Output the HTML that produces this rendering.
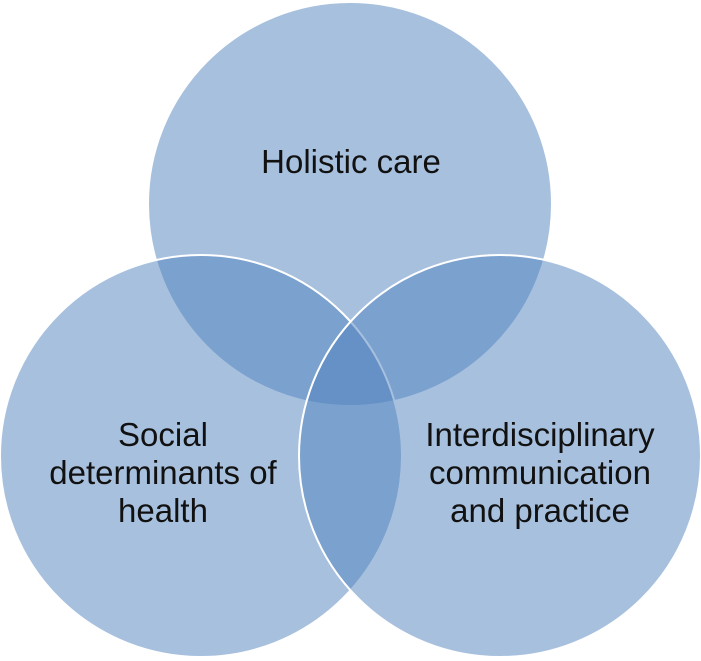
<!DOCTYPE html>
<html><head><meta charset="utf-8"><style>
html,body{margin:0;padding:0;background:#fff;}
svg{display:block;}
text{font-family:"Liberation Sans",sans-serif;font-size:33px;fill:#111;}
</style></head><body>
<svg width="701" height="661" viewBox="0 0 701 661">
<g fill="#4f81bd" fill-opacity="0.5" stroke="#ffffff" stroke-width="2">
<circle cx="350" cy="204" r="202"/>
<circle cx="201" cy="456" r="201"/>
<circle cx="500" cy="456" r="201"/>
</g>
<g text-anchor="middle">
<text x="351" y="173">Holistic care</text>
<text x="163" y="446"><tspan x="163">Social</tspan><tspan x="163" dy="38">determinants of</tspan><tspan x="163" dy="38">health</tspan></text>
<text x="540" y="446"><tspan x="540">Interdisciplinary</tspan><tspan x="540" dy="38">communication</tspan><tspan x="540" dy="38">and practice</tspan></text>
</g>
</svg>
</body></html>
